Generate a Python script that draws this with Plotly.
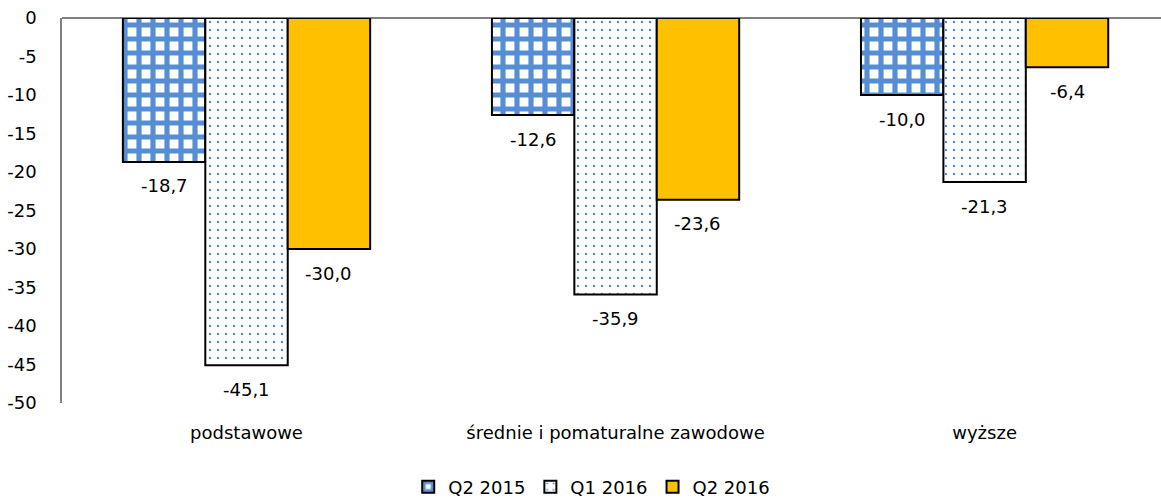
import plotly.graph_objects as go

categories = ["podstawowe", "średnie i pomaturalne zawodowe", "wyższe"]
series_names = ["Q2 2015", "Q1 2016", "Q2 2016"]
q2_2015 = [-18.7, -12.6, -10.0]
q1_2016 = [-45.1, -35.9, -21.3]
q2_2016 = [-30.0, -23.6, -6.4]
y_ticks = [0, -5, -10, -15, -20, -25, -30, -35, -40, -45, -50]

BLUE = "#558ED5"
ORANGE = "#FFC000"
FONT = "DejaVu Sans"
FS = 18

W, H = 1161, 503
ML, MR, MT, MB = 62, 0, 18, 100
BARGAP = 0.33
X_RANGE = [-0.5, 2.478]

def fmt(v):
    return f"{v:.1f}".replace(".", ",")

styles = [
    dict(color="white", pattern=dict(shape="+", fgcolor=BLUE, bgcolor="white",
                                     size=14, solidity=0.6, fillmode="replace")),
    dict(color="white", pattern=dict(shape=".", fgcolor=BLUE, bgcolor="white",
                                     size=8, solidity=0.08, fillmode="replace")),
    dict(color=ORANGE),
]

all_series = [q2_2015, q1_2016, q2_2016]

fig = go.Figure()
for name, vals, st in zip(series_names, all_series, styles):
    fig.add_trace(go.Bar(
        x=categories, y=vals, name=name,
        marker=dict(line=dict(color="black", width=2), **st),
    ))

# data labels below each bar end
cat_px = (W - ML - MR) / (X_RANGE[1] - X_RANGE[0])
bar_px = (1 - BARGAP) * cat_px / len(series_names)
for i, vals in enumerate(all_series):
    for c, v in zip(categories, vals):
        fig.add_annotation(x=c, y=v, text=fmt(v), showarrow=False,
                           xshift=(i - 1) * bar_px, yshift=-24,
                           yanchor="middle", xanchor="center",
                           font=dict(family=FONT, size=FS, color="black"))

fig.update_layout(
    width=W, height=H,
    margin=dict(l=ML, r=MR, t=MT, b=MB, autoexpand=False),
    paper_bgcolor="white", plot_bgcolor="white",
    barmode="group", bargap=BARGAP, bargroupgap=0,
    font=dict(family=FONT, size=FS, color="black"),
    showlegend=True,
    legend=dict(orientation="h", x=0.482, xanchor="center", y=-0.218, yanchor="middle",
                font=dict(family=FONT, size=FS), itemwidth=30, tracegroupgap=0),
)
fig.update_xaxes(range=X_RANGE, showline=False, showgrid=False, ticks="",
                 tickfont=dict(size=FS), ticklabelstandoff=17, automargin=False)
fig.update_yaxes(range=[-50, 0], tickvals=y_ticks, ticktext=[str(t) for t in y_ticks],
                 showgrid=False, showline=True, linecolor="#808080", linewidth=1.5,
                 zeroline=True, zerolinecolor="#808080", zerolinewidth=1.5,
                 ticks="", ticklabelstandoff=20, tickfont=dict(size=FS), automargin=False)

fig.write_html("out.html", config={"displayModeBar": False},
               post_script="document.body.style.margin='0px';document.body.style.overflow='hidden';")
